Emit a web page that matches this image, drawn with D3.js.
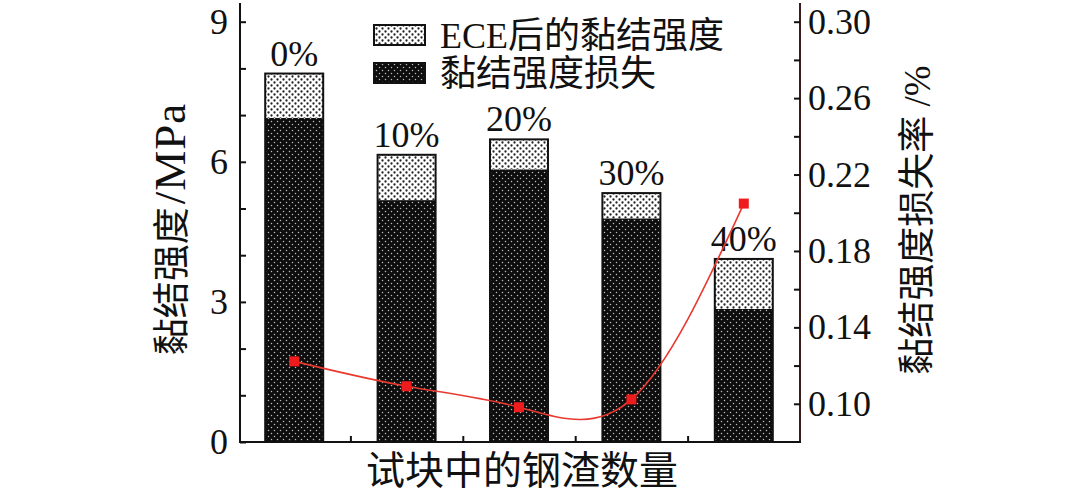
<!DOCTYPE html>
<html>
<head>
<meta charset="utf-8">
<script src="https://cdn.jsdelivr.net/npm/d3@7/dist/d3.min.js"></script>
<style>
  html, body { margin: 0; padding: 0; background: #fff; }
  svg { display: block; }
  text { font-family: "Liberation Serif", "Noto Sans CJK SC", serif; fill: #111; }
</style>
</head>
<body>
<svg id="chart" width="1080" height="503"></svg>
<script>
// ---- data ----
const categories = ["0%", "10%", "20%", "30%", "40%"];
const lossValues = [6.94, 5.18, 5.84, 4.79, 2.85];      // dark segment (黏结强度损失)
const eceValues  = [0.95, 0.97, 0.64, 0.54, 1.07];      // light segment (ECE后的黏结强度)
const lossRate   = [0.1222, 0.1092, 0.0982, 0.1023, 0.2048]; // 黏结强度损失率 /%
const leftTicks  = [0, 3, 6, 9];
const leftMinor  = [1, 2, 4, 5, 7, 8];
const rightTicks = [0.10, 0.14, 0.18, 0.22, 0.26, 0.30];
const rightMinor = [0.12, 0.16, 0.20, 0.24, 0.28];
const legendLabels = ["ECE后的黏结强度", "黏结强度损失"];
const xTitle = "试块中的钢渣数量";
const yTitleLeftCJK = "黏结强度";
const yTitleLeftUnit = "/MPa";
const yTitleRight = "黏结强度损失率 /%";

const svg = d3.select("#chart");
const L = 240, R = 800, B = 442, T = 3;

const x = d3.scaleBand().domain(categories).range([238, 800]).paddingInner(0.484).paddingOuter(0.242);
const y = d3.scaleLinear().domain([0, 9]).range([B, 21.7]);
const y2 = d3.scaleLinear().domain([0.08, 0.30]).range([B, 21.7]);

// patterns
const defs = svg.append("defs");
const pd = defs.append("pattern").attr("id", "darkPat").attr("patternUnits", "userSpaceOnUse")
  .attr("width", 6).attr("height", 6);
pd.append("rect").attr("width", 6).attr("height", 6).attr("fill", "#0d0d0d");
pd.append("circle").attr("cx", 1.5).attr("cy", 1.5).attr("r", 0.75).attr("fill", "#bdbdbd");
pd.append("circle").attr("cx", 4.5).attr("cy", 4.5).attr("r", 0.75).attr("fill", "#bdbdbd");
const pl = defs.append("pattern").attr("id", "lightPat").attr("patternUnits", "userSpaceOnUse")
  .attr("width", 6).attr("height", 6);
pl.append("rect").attr("width", 6).attr("height", 6).attr("fill", "#fff");
pl.append("circle").attr("cx", 1.5).attr("cy", 1.5).attr("r", 1.15).attr("fill", "#222");
pl.append("circle").attr("cx", 4.5).attr("cy", 4.5).attr("r", 1.15).attr("fill", "#222");

// bars
const bars = svg.append("g");
categories.forEach((c, i) => {
  const x0 = x(c), w = x.bandwidth();
  const top = lossValues[i] + eceValues[i];
  bars.append("rect").attr("x", x0).attr("y", y(lossValues[i])).attr("width", w)
    .attr("height", y(0) - y(lossValues[i])).attr("fill", "url(#darkPat)");
  bars.append("rect").attr("x", x0).attr("y", y(top)).attr("width", w)
    .attr("height", y(lossValues[i]) - y(top)).attr("fill", "url(#lightPat)");
  bars.append("rect").attr("x", x0).attr("y", y(top)).attr("width", w)
    .attr("height", y(0) - y(top)).attr("fill", "none").attr("stroke", "#111").attr("stroke-width", 2);
  svg.append("text").attr("x", x0 + w / 2).attr("y", y(top) - 8).attr("text-anchor", "middle")
    .attr("font-size", 36).text(c);
});

// axes
const ax = svg.append("g");
ax.append("line").attr("x1", L).attr("x2", L).attr("y1", T).attr("y2", B + 1).attr("stroke", "#111").attr("stroke-width", 2);
ax.append("line").attr("x1", R).attr("x2", R).attr("y1", T).attr("y2", B + 1).attr("stroke", "#3a1a1a").attr("stroke-width", 2);
ax.append("line").attr("x1", L - 1).attr("x2", R + 1).attr("y1", B).attr("y2", B).attr("stroke", "#111").attr("stroke-width", 2);

const gl = svg.append("g").attr("transform", `translate(${L},0)`)
  .call(d3.axisLeft(y).tickValues(leftTicks).tickSizeInner(-6).tickSizeOuter(0).tickPadding(12).tickFormat(d3.format("d")));
const glm = svg.append("g").attr("transform", `translate(${L},0)`)
  .call(d3.axisLeft(y).tickValues(leftMinor).tickSizeInner(-6).tickSizeOuter(0).tickFormat(""));
const gr = svg.append("g").attr("transform", `translate(${R},0)`)
  .call(d3.axisRight(y2).tickValues(rightTicks).tickSizeInner(-6).tickSizeOuter(0).tickPadding(8).tickFormat(d3.format(".2f")));
const grm = svg.append("g").attr("transform", `translate(${R},0)`)
  .call(d3.axisRight(y2).tickValues(rightMinor).tickSizeInner(-6).tickSizeOuter(0).tickFormat(""));
// x ticks between bars
const bounds = categories.slice(1).map(c => x(c) - x.step() * x.paddingInner() / 2);
const gx = svg.append("g").attr("transform", `translate(0,${B})`)
  .call(d3.axisBottom(d3.scaleLinear().domain([L, R]).range([L, R])).tickValues(bounds)
    .tickSizeInner(-6).tickSizeOuter(0).tickFormat(""));
[gl, glm, gr, grm, gx].forEach(g => {
  g.select(".domain").remove();
  g.selectAll(".tick line").attr("stroke", "#111").attr("stroke-width", 2);
  g.selectAll("text").attr("font-size", 36).attr("fill", "#111")
    .style("font-family", '"Liberation Serif", serif');
});

// line
const pts = categories.map((c, i) => [x(c) + x.bandwidth() / 2, y2(lossRate[i])]);
svg.append("path").attr("d", d3.line().curve(d3.curveNatural)(pts))
  .attr("fill", "none").attr("stroke", "#e8392f").attr("stroke-width", 1.6);
svg.append("g").selectAll("rect").data(pts).join("rect")
  .attr("x", d => d[0] - 5).attr("y", d => d[1] - 5).attr("width", 10).attr("height", 10)
  .attr("fill", "#ee1c1c");

// legend
const lg = svg.append("g");
legendLabels.forEach((t, i) => {
  const cy = 35 + i * 38;
  lg.append("rect").attr("x", 374).attr("y", cy - 10).attr("width", 51).attr("height", 20)
    .attr("fill", i === 0 ? "url(#lightPat)" : "url(#darkPat)").attr("stroke", "#111").attr("stroke-width", 2);
  lg.append("text").attr("x", 440).attr("y", cy).attr("dy", "0.36em").attr("font-size", 36).text(t);
});

// titles
svg.append("text").attr("x", 522).attr("y", 470).attr("dy", "0.36em").attr("text-anchor", "middle")
  .attr("font-size", 39).text(xTitle);
const lt = svg.append("text").attr("transform", "translate(172,229) rotate(-90)").attr("dy", "0.36em")
  .attr("text-anchor", "middle").attr("font-size", 37);
lt.append("tspan").text(yTitleLeftCJK);
lt.append("tspan").attr("font-size", 45).attr("letter-spacing", 1).attr("dx", 3).text(yTitleLeftUnit);
svg.append("text").attr("transform", "translate(917,220) rotate(-90)").attr("dy", "0.36em")
  .attr("text-anchor", "middle").attr("font-size", 37).text(yTitleRight);
</script>
</body>
</html>
